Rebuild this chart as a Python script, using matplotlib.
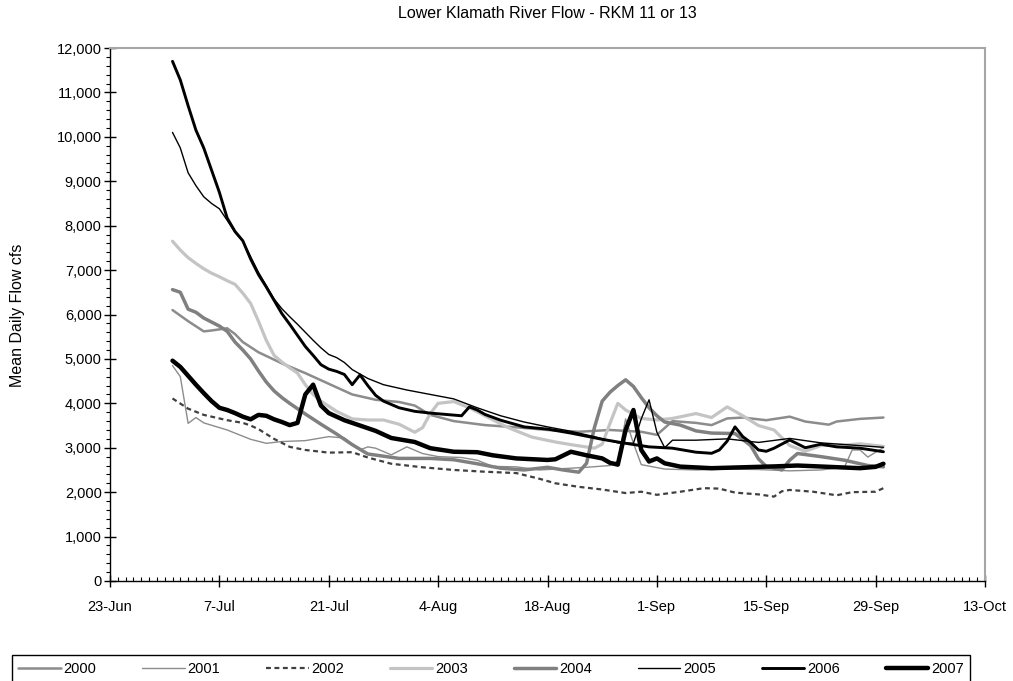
import datetime as dt
import matplotlib
matplotlib.use("Agg")
import matplotlib.pyplot as plt
import matplotlib.dates as mdates
from matplotlib.ticker import MultipleLocator, FuncFormatter, FixedLocator

plt.rcParams['font.family'] = ['Liberation Sans', 'DejaVu Sans']

# mean daily flow (cfs), Jul 1 - Sep 30
dates_2000 = ["Jul 1", "Jul 3", "Jul 5", "Jul 6", "Jul 8", "Jul 9", "Jul 10", "Jul 12", "Jul 15", "Jul 18",
              "Jul 21", "Jul 24", "Jul 27", "Jul 30", "Aug 1", "Aug 3", "Aug 6", "Aug 10", "Aug 14", "Aug 18",
              "Aug 22", "Aug 26", "Aug 30", "Sep 1", "Sep 3", "Sep 6", "Sep 8", "Sep 10", "Sep 12", "Sep 15",
              "Sep 18", "Sep 20", "Sep 23", "Sep 24", "Sep 27", "Sep 30"]
flow_2000 = [6100, 5850, 5620, 5640, 5690, 5560, 5380, 5150, 4900, 4680,
             4440, 4200, 4080, 4030, 3950, 3740, 3600, 3510, 3460, 3400,
             3360, 3400, 3360, 3290, 3600, 3560, 3510, 3660, 3680, 3620,
             3700, 3590, 3520, 3590, 3650, 3680]

dates_2001 = ["Jul 1", "Jul 2", "Jul 3", "Jul 4", "Jul 5", "Jul 8", "Jul 11", "Jul 13", "Jul 15", "Jul 18",
              "Jul 21", "Jul 23", "Jul 25", "Jul 26", "Jul 27", "Jul 29", "Jul 31", "Aug 2", "Aug 4", "Aug 7",
              "Aug 9", "Aug 11", "Aug 14", "Aug 17", "Aug 20", "Aug 23", "Aug 26", "Aug 27", "Aug 28", "Aug 29",
              "Aug 30", "Sep 2", "Sep 6", "Sep 10", "Sep 14", "Sep 18", "Sep 22", "Sep 25", "Sep 26", "Sep 27",
              "Sep 28", "Sep 29", "Sep 30"]
flow_2001 = [4850, 4600, 3550, 3680, 3560, 3400, 3190, 3100, 3140, 3160,
             3250, 3220, 2950, 3020, 2990, 2840, 3020, 2870, 2800, 2780,
             2720, 2580, 2570, 2500, 2530, 2560, 2600, 2700, 3650, 3100,
             2620, 2520, 2500, 2520, 2510, 2480, 2500, 2560, 2950, 2950,
             2790, 2900, 3000]

dates_2002 = ["Jul 1", "Jul 3", "Jul 5", "Jul 8", "Jul 10", "Jul 11", "Jul 12", "Jul 14", "Jul 16", "Jul 18",
              "Jul 21", "Jul 24", "Jul 26", "Jul 29", "Aug 2", "Aug 6", "Aug 10", "Aug 14", "Aug 17", "Aug 19",
              "Aug 22", "Aug 25", "Aug 28", "Aug 30", "Sep 1", "Sep 4", "Sep 7", "Sep 9", "Sep 11", "Sep 14",
              "Sep 16", "Sep 17", "Sep 18", "Sep 21", "Sep 24", "Sep 26", "Sep 29", "Sep 30"]
flow_2002 = [4110, 3880, 3740, 3620, 3560, 3500, 3420, 3200, 3020, 2950,
             2890, 2900, 2780, 2640, 2560, 2500, 2460, 2430, 2300, 2200,
             2120, 2060, 1980, 2010, 1940, 2010, 2090, 2080, 1990, 1950,
             1900, 2020, 2050, 2010, 1930, 2000, 2010, 2090]

dates_2003 = ["Jul 1", "Jul 2", "Jul 3", "Jul 4", "Jul 5", "Jul 6", "Jul 7", "Jul 8", "Jul 9", "Jul 10",
              "Jul 11", "Jul 12", "Jul 13", "Jul 14", "Jul 15", "Jul 16", "Jul 17", "Jul 18", "Jul 19", "Jul 20",
              "Jul 22", "Jul 24", "Jul 26", "Jul 28", "Jul 30", "Aug 1", "Aug 2", "Aug 3", "Aug 4", "Aug 6",
              "Aug 8", "Aug 10", "Aug 13", "Aug 16", "Aug 19", "Aug 21", "Aug 24", "Aug 25", "Aug 26", "Aug 27",
              "Aug 28", "Aug 30", "Sep 1", "Sep 3", "Sep 6", "Sep 8", "Sep 10", "Sep 12", "Sep 14", "Sep 16",
              "Sep 18", "Sep 20", "Sep 22", "Sep 25", "Sep 27", "Sep 30"]
flow_2003 = [7650, 7450, 7280, 7150, 7030, 6930, 6850, 6760, 6680, 6480,
             6250, 5850, 5420, 5080, 4930, 4800, 4680, 4420, 4200, 4050,
             3820, 3650, 3625, 3625, 3530, 3350, 3450, 3770, 4000, 4040,
             3900, 3720, 3450, 3240, 3130, 3070, 2990, 3080, 3550, 4000,
             3850, 3660, 3625, 3660, 3770, 3680, 3920, 3720, 3500, 3400,
             3050, 2920, 3050, 3060, 3090, 3030]

dates_2004 = ["Jul 1", "Jul 2", "Jul 3", "Jul 4", "Jul 5", "Jul 6", "Jul 7", "Jul 8", "Jul 9", "Jul 10",
              "Jul 11", "Jul 12", "Jul 13", "Jul 14", "Jul 15", "Jul 16", "Jul 17", "Jul 18", "Jul 20", "Jul 22",
              "Jul 24", "Jul 26", "Jul 30", "Aug 3", "Aug 6", "Aug 9", "Aug 12", "Aug 15", "Aug 18", "Aug 20",
              "Aug 22", "Aug 23", "Aug 24", "Aug 25", "Aug 26", "Aug 27", "Aug 28", "Aug 29", "Aug 30", "Aug 31",
              "Sep 1", "Sep 2", "Sep 4", "Sep 6", "Sep 8", "Sep 11", "Sep 13", "Sep 14", "Sep 15", "Sep 17",
              "Sep 18", "Sep 19", "Sep 22", "Sep 25", "Sep 28", "Sep 30"]
flow_2004 = [6560, 6500, 6120, 6050, 5920, 5830, 5740, 5620, 5380, 5200,
             5000, 4730, 4480, 4280, 4130, 4000, 3880, 3760, 3530, 3310,
             3070, 2860, 2760, 2760, 2730, 2640, 2540, 2500, 2560, 2500,
             2450, 2650, 3450, 4050, 4250, 4400, 4530, 4380, 4130, 3900,
             3720, 3580, 3510, 3380, 3330, 3320, 3050, 2750, 2580, 2500,
             2720, 2870, 2800, 2720, 2600, 2570]

dates_2005 = ["Jul 1", "Jul 2", "Jul 3", "Jul 4", "Jul 5", "Jul 6", "Jul 7", "Jul 8", "Jul 9", "Jul 10",
              "Jul 12", "Jul 13", "Jul 14", "Jul 15", "Jul 16", "Jul 17", "Jul 18", "Jul 19", "Jul 20", "Jul 21",
              "Jul 22", "Jul 23", "Jul 24", "Jul 26", "Jul 28", "Jul 31", "Aug 3", "Aug 6", "Aug 9", "Aug 12",
              "Aug 15", "Aug 18", "Aug 21", "Aug 24", "Aug 27", "Aug 29", "Aug 30", "Aug 31", "Sep 1", "Sep 2",
              "Sep 3", "Sep 6", "Sep 10", "Sep 14", "Sep 18", "Sep 22", "Sep 26", "Sep 30"]
flow_2005 = [10100, 9750, 9190, 8900, 8650, 8500, 8380, 8120, 7850, 7650,
             6950, 6650, 6350, 6130, 5950, 5780, 5600, 5420, 5250, 5100,
             5030, 4920, 4760, 4560, 4420, 4300, 4200, 4100, 3900, 3720,
             3580, 3470, 3370, 3250, 3110, 3100, 3650, 4080, 3350, 3000,
             3170, 3170, 3200, 3120, 3210, 3110, 3060, 3010]

dates_2006 = ["Jul 1", "Jul 2", "Jul 3", "Jul 4", "Jul 5", "Jul 6", "Jul 7", "Jul 8", "Jul 9", "Jul 10",
              "Jul 11", "Jul 12", "Jul 13", "Jul 14", "Jul 15", "Jul 16", "Jul 17", "Jul 18", "Jul 19", "Jul 20",
              "Jul 21", "Jul 22", "Jul 23", "Jul 24", "Jul 25", "Jul 26", "Jul 27", "Jul 28", "Jul 30", "Aug 1",
              "Aug 3", "Aug 5", "Aug 7", "Aug 8", "Aug 9", "Aug 10", "Aug 12", "Aug 15", "Aug 18", "Aug 21",
              "Aug 25", "Aug 28", "Aug 31", "Sep 3", "Sep 6", "Sep 8", "Sep 9", "Sep 10", "Sep 11", "Sep 12",
              "Sep 13", "Sep 14", "Sep 15", "Sep 16", "Sep 18", "Sep 20", "Sep 22", "Sep 24", "Sep 27", "Sep 30"]
flow_2006 = [11700, 11280, 10700, 10150, 9750, 9250, 8750, 8170, 7870, 7660,
             7250, 6900, 6620, 6320, 6020, 5780, 5530, 5280, 5080, 4870,
             4770, 4720, 4650, 4420, 4640, 4400, 4180, 4050, 3900, 3820,
             3780, 3750, 3720, 3920, 3850, 3750, 3620, 3470, 3420, 3330,
             3190, 3100, 3020, 2990, 2900, 2875, 2950, 3150, 3470, 3250,
             3120, 2950, 2920, 2990, 3175, 3000, 3080, 3020, 2990, 2910]

dates_2007 = ["Jul 1", "Jul 2", "Jul 3", "Jul 4", "Jul 5", "Jul 6", "Jul 7", "Jul 8", "Jul 9", "Jul 10",
              "Jul 11", "Jul 12", "Jul 13", "Jul 14", "Jul 15", "Jul 16", "Jul 17", "Jul 18", "Jul 19", "Jul 20",
              "Jul 21", "Jul 22", "Jul 23", "Jul 25", "Jul 27", "Jul 29", "Aug 1", "Aug 3", "Aug 6", "Aug 9",
              "Aug 11", "Aug 14", "Aug 18", "Aug 19", "Aug 21", "Aug 23", "Aug 25", "Aug 26", "Aug 27", "Aug 28",
              "Aug 29", "Aug 30", "Aug 31", "Sep 1", "Sep 2", "Sep 4", "Sep 8", "Sep 12", "Sep 16", "Sep 19",
              "Sep 23", "Sep 27", "Sep 29", "Sep 30"]
flow_2007 = [4960, 4820, 4620, 4420, 4230, 4050, 3900, 3850, 3780, 3700,
             3640, 3740, 3720, 3640, 3580, 3510, 3560, 4200, 4420, 3950,
             3780, 3700, 3620, 3500, 3380, 3220, 3130, 2990, 2910, 2900,
             2830, 2760, 2725, 2740, 2910, 2830, 2760, 2660, 2620, 3400,
             3850, 2950, 2690, 2760, 2650, 2575, 2540, 2560, 2580, 2600,
             2570, 2540, 2570, 2640]

years = ["2000", "2001", "2002", "2003", "2004", "2005", "2006", "2007"]
all_dates = [dates_2000, dates_2001, dates_2002, dates_2003, dates_2004, dates_2005, dates_2006, dates_2007]
all_flows = [flow_2000, flow_2001, flow_2002, flow_2003, flow_2004, flow_2005, flow_2006, flow_2007]

# line styles per year (color, width, dashes)
styles = {
    "2000": dict(color="#8c8c8c", lw=1.8),
    "2001": dict(color="#8c8c8c", lw=1.0),
    "2002": dict(color="#404040", lw=1.6, dashes=(2.2, 1.6)),
    "2003": dict(color="#c4c4c4", lw=2.3),
    "2004": dict(color="#808080", lw=2.5),
    "2005": dict(color="black", lw=1.0),
    "2006": dict(color="black", lw=2.1),
    "2007": dict(color="black", lw=3.2),
}


def to_dates(labels):
    return [dt.datetime.strptime(s + " 2007", "%b %d %Y") for s in labels]


fig = plt.figure(figsize=(10.13, 6.81), dpi=100)
ax = fig.add_axes([110 / 1013, 1 - 581 / 681, 875 / 1013, 533 / 681])

handles = []
for yr, d, f in zip(years, all_dates, all_flows):
    st = styles[yr]
    kw = dict(color=st["color"], lw=st["lw"], solid_capstyle="round", solid_joinstyle="round")
    if "dashes" in st:
        kw["dashes"] = st["dashes"]
    line, = ax.plot(to_dates(d), f, label=yr, **kw)
    handles.append(line)

start = dt.datetime(2007, 6, 23)
end = dt.datetime(2007, 10, 13)
ax.set_xlim(start, end)
ax.set_ylim(0, 12000)

major_days = [start + dt.timedelta(days=14 * k) for k in range(9)]
ax.xaxis.set_major_locator(FixedLocator(mdates.date2num(major_days)))
ax.xaxis.set_minor_locator(mdates.DayLocator())
ax.xaxis.set_major_formatter(FuncFormatter(
    lambda v, p: "%d-%s" % (mdates.num2date(v).day, mdates.num2date(v).strftime("%b"))))

ax.yaxis.set_major_locator(MultipleLocator(1000))
ax.yaxis.set_minor_locator(MultipleLocator(200))
ax.yaxis.set_major_formatter(FuncFormatter(lambda v, p: "{:,.0f}".format(v)))

ax.tick_params(axis="both", which="major", direction="inout", length=8, width=1,
               labelsize=10.5, color="black")
ax.tick_params(axis="y", which="major", pad=2)
ax.tick_params(axis="x", which="major", pad=10)
ax.tick_params(axis="y", which="minor", direction="out", length=3, width=0.8)
ax.tick_params(axis="x", which="minor", direction="in", length=3, width=0.8)

for s in ["left", "bottom"]:
    ax.spines[s].set_color("black")
    ax.spines[s].set_linewidth(1)
for s in ["top", "right"]:
    ax.spines[s].set_color("#a6a6a6")
    ax.spines[s].set_linewidth(1.5)

fig.text(547.5 / 1013, 1 - 13 / 681, "Lower Klamath River Flow - RKM 11 or 13",
         ha="center", va="center", fontsize=11.5)
fig.text(18 / 1013, 1 - 315 / 681, "Mean Daily Flow cfs", rotation=90,
         ha="center", va="center", fontsize=11.5)

leg = fig.legend(handles, years, loc="upper center", bbox_to_anchor=(491 / 1013, 1 - 648 / 681),
                 ncol=8, frameon=True, fancybox=False, edgecolor="black", framealpha=1,
                 handlelength=2.9, handletextpad=0.2, columnspacing=3.15, borderpad=0.45,
                 fontsize=10.5)
leg.get_frame().set_linewidth(1)

fig.savefig("out.png", dpi=100)
